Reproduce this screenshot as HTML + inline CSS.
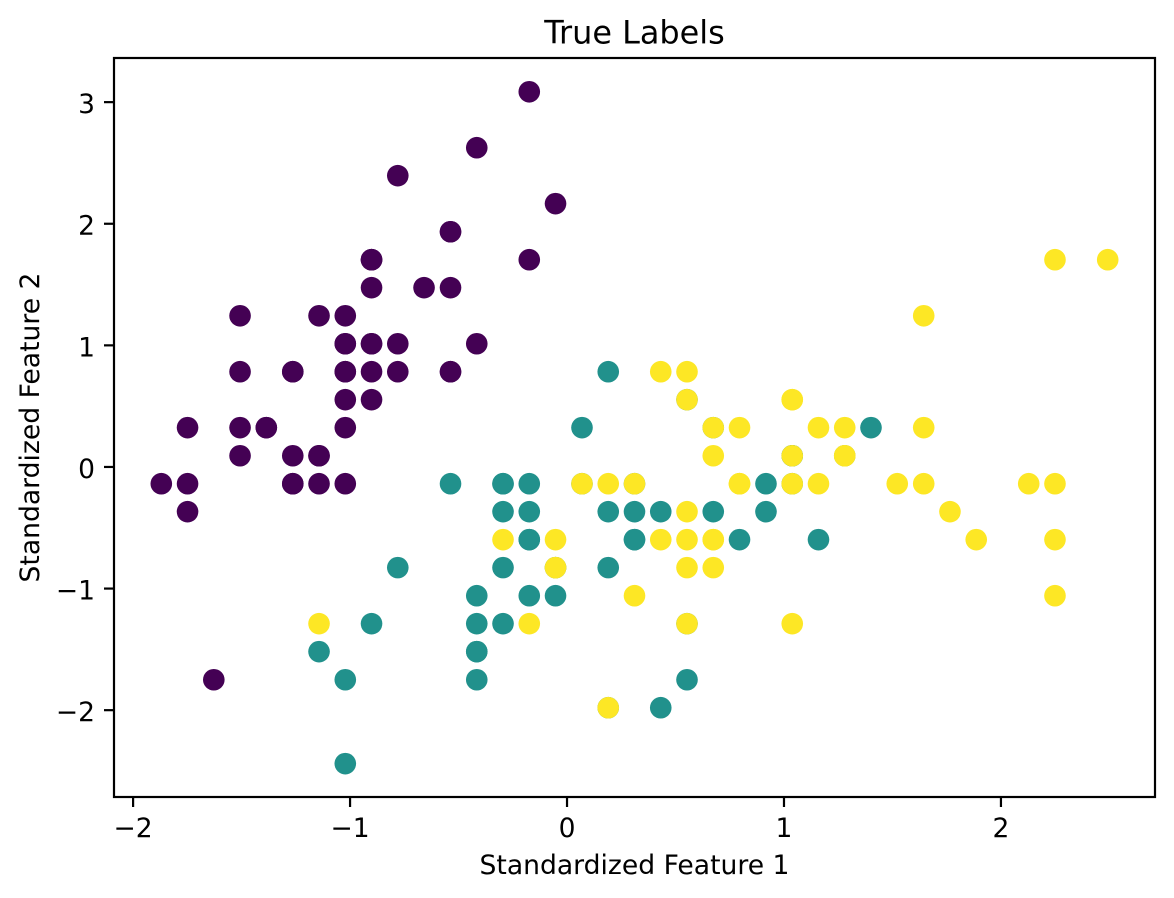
<!DOCTYPE html>
<html>
<head>
<meta charset="utf-8">
<style>
html,body{margin:0;padding:0;background:#fff;width:1174px;height:898px;overflow:hidden}
svg{display:block}
text{font-family:"DejaVu Sans","Liberation Sans",sans-serif;fill:#000}
</style>
</head>
<body>
<svg id="chart" xmlns="http://www.w3.org/2000/svg" width="1174" height="898" viewBox="0 0 1174 898">
<rect x="0" y="0" width="1174" height="898" fill="#fff"/>
<g id="points"></g>
<g id="ticks"></g>
<rect x="114" y="58" width="1041" height="739" fill="none" stroke="#000" stroke-width="2.2"/>
<text x="634.5" y="43.5" font-size="31.9" text-anchor="middle">True Labels</text>
<text x="634.5" y="874" font-size="26.6" text-anchor="middle">Standardized Feature 1</text>
<text transform="translate(39 427.5) rotate(-90)" font-size="26.6" text-anchor="middle">Standardized Feature 2</text>
</svg>
<script>
const xTickValues = [-2, -1, 0, 1, 2];
const yTickValues = [-2, -1, 0, 1, 2, 3];
const xDomain = [-2.088, 2.710];
const yDomain = [-2.714, 3.363];

const setosaX = [-0.901,-1.143,-1.386,-1.507,-1.022,-0.537,-1.507,-1.022,-1.749,-1.143,-0.537,-1.264,-1.264,-1.870,-0.053,-0.174,-0.537,-0.901,-0.174,-0.901,-0.537,-0.901,-1.507,-0.901,-1.264,-1.022,-1.022,-0.780,-0.780,-1.386,-1.264,-0.537,-0.780,-0.416,-1.143,-1.022,-0.416,-1.143,-1.749,-0.901,-1.022,-1.628,-1.749,-1.022,-0.901,-1.264,-0.901,-1.507,-0.659,-1.022];
const setosaY = [1.019,-0.132,0.329,0.098,1.249,1.940,0.789,0.789,-0.362,0.098,1.480,0.789,-0.132,-0.132,2.171,3.091,1.940,1.019,1.710,1.710,0.789,1.480,1.249,0.559,0.789,-0.132,0.789,1.019,0.789,0.329,0.098,0.789,2.401,2.631,0.098,0.329,1.019,1.249,-0.132,0.789,1.019,-1.744,0.329,1.019,1.710,-0.132,1.710,0.329,1.480,0.559];

const versicolorX = [1.401,0.674,1.280,-0.416,0.795,-0.174,0.553,-1.143,0.917,-0.780,-1.022,0.069,0.190,0.311,-0.295,1.038,-0.295,-0.053,0.432,-0.295,0.069,0.311,0.553,0.311,0.674,0.917,1.159,1.038,0.190,-0.174,-0.416,-0.416,-0.053,0.190,-0.537,0.190,1.038,0.553,-0.295,-0.416,-0.416,0.311,-0.053,-1.022,-0.295,-0.174,-0.174,0.432,-0.901,-0.174];
const versicolorY = [0.329,0.329,0.098,-1.744,-0.592,-0.592,0.559,-1.513,-0.362,-0.822,-2.434,-0.132,-1.974,-0.362,-0.362,0.098,-0.132,-0.822,-1.974,-1.283,0.329,-0.592,-1.283,-0.592,-0.362,-0.132,-0.592,-0.132,-0.362,-1.053,-1.513,-1.513,-0.822,-0.822,-0.132,0.789,0.098,-1.744,-0.132,-1.283,-1.053,-0.132,-1.053,-1.744,-0.822,-0.132,-0.362,-0.362,-1.283,-0.592];

const virginicaX = [0.553,-0.053,1.522,0.553,0.795,2.128,-1.143,1.765,1.038,1.644,0.795,0.674,1.159,-0.174,-0.053,0.674,0.795,2.249,2.249,0.190,1.280,-0.295,2.249,0.553,1.038,1.644,0.432,0.311,0.674,1.644,1.886,2.492,0.674,0.553,0.311,2.249,0.553,0.674,0.190,1.280,1.038,1.280,-0.053,1.159,1.038,1.038,0.553,0.795,0.432,0.069];
const virginicaY = [0.559,-0.822,-0.132,-0.362,-0.132,-0.132,-1.283,-0.362,-1.283,1.249,0.329,-0.822,-0.132,-1.283,-0.592,0.329,-0.132,1.710,-1.053,-1.974,0.329,-0.592,-0.592,-0.822,0.559,0.329,-0.592,-0.132,-0.592,-0.132,-0.592,1.710,-0.592,-0.592,-1.053,-0.132,0.789,0.098,-0.132,0.098,0.098,0.098,-0.822,0.329,0.559,-0.132,-1.283,-0.132,0.789,-0.132];

const seriesColors = ['#440154', '#21918c', '#fde725'];

const NS = 'http://www.w3.org/2000/svg';
const plotLeft = 114, plotRight = 1155, plotTop = 58, plotBottom = 797;
function xScale(v) { return plotLeft + (v - xDomain[0]) / (xDomain[1] - xDomain[0]) * (plotRight - plotLeft); }
function yScale(v) { return plotBottom - (v - yDomain[0]) / (yDomain[1] - yDomain[0]) * (plotBottom - plotTop); }
function fmt(v) { return v < 0 ? '\u2212' + Math.abs(v) : String(v); }

const pointsLayer = document.getElementById('points');
function drawSeries(xs, ys, color) {
  for (let i = 0; i < xs.length; i++) {
    const c = document.createElementNS(NS, 'circle');
    c.setAttribute('cx', xScale(xs[i]));
    c.setAttribute('cy', yScale(ys[i]) + 0.7);
    c.setAttribute('r', 10.8);
    c.setAttribute('fill', color);
    
    
    pointsLayer.appendChild(c);
  }
}
drawSeries(setosaX, setosaY, seriesColors[0]);
drawSeries(versicolorX, versicolorY, seriesColors[1]);
drawSeries(virginicaX, virginicaY, seriesColors[2]);

const ticksLayer = document.getElementById('ticks');
xTickValues.forEach(function (v) {
  const x = xScale(v);
  const l = document.createElementNS(NS, 'line');
  l.setAttribute('x1', x); l.setAttribute('x2', x);
  l.setAttribute('y1', plotBottom); l.setAttribute('y2', plotBottom + 10);
  l.setAttribute('stroke', '#000'); l.setAttribute('stroke-width', '2.2');
  
  
  ticksLayer.appendChild(l);
  const t = document.createElementNS(NS, 'text');
  t.setAttribute('x', x); t.setAttribute('y', plotBottom + 40);
  t.setAttribute('font-size', '26.5'); t.setAttribute('text-anchor', 'middle');
  t.textContent = fmt(v);
  
  
  ticksLayer.appendChild(t);
});
yTickValues.forEach(function (v) {
  const y = yScale(v);
  const l = document.createElementNS(NS, 'line');
  l.setAttribute('x1', plotLeft - 10); l.setAttribute('x2', plotLeft);
  l.setAttribute('y1', y); l.setAttribute('y2', y);
  l.setAttribute('stroke', '#000'); l.setAttribute('stroke-width', '2.2');
  
  
  ticksLayer.appendChild(l);
  const t = document.createElementNS(NS, 'text');
  t.setAttribute('x', plotLeft - 19); t.setAttribute('y', y + 11);
  t.setAttribute('font-size', '26.5'); t.setAttribute('text-anchor', 'end');
  t.textContent = fmt(v);
  
  
  ticksLayer.appendChild(t);
});
</script>
</body>
</html>
